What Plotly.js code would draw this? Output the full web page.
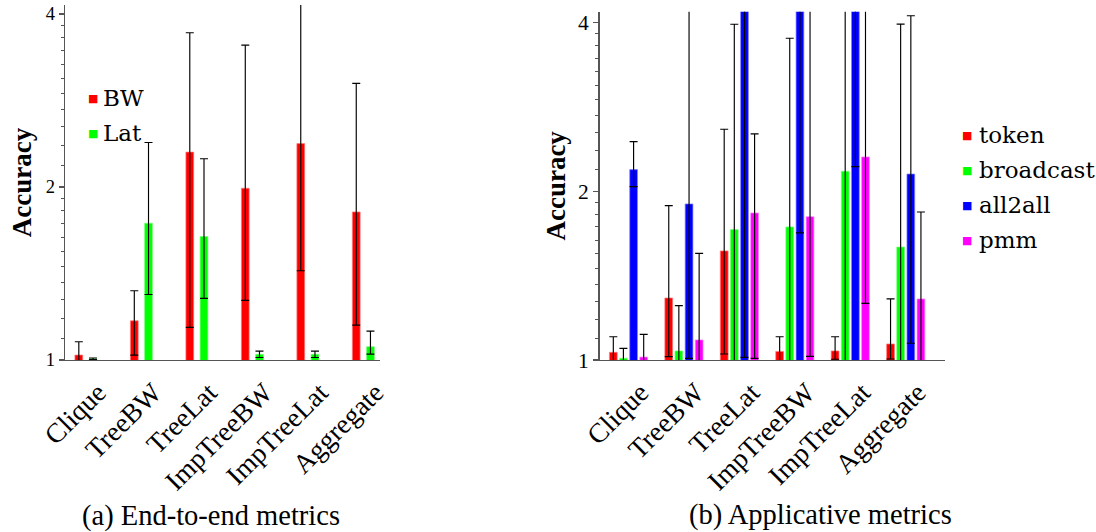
<!DOCTYPE html>
<html>
<head>
<meta charset="utf-8">
<script src="https://cdn.plot.ly/plotly-3.0.1.min.js"></script>
<style>html,body{margin:0;padding:0;background:#fff;}#chart{width:1096px;height:532px;}</style>
</head>
<body>
<div id="chart"></div>
<script>
// ---------- data ----------
const categories = ['Clique', 'TreeBW', 'TreeLat', 'ImpTreeBW', 'ImpTreeLat', 'Aggregate'];

// (a) End-to-end metrics
const bwValues   = [1.02, 1.17, 2.30, 1.99, 2.38, 1.81];
const bwPlus     = [0.056, 0.15, 1.41, 1.54, 2.10, 1.22];
const bwMinus    = [0.056, 0.15, 1.16, 0.72, 0.95, 0.66];
const latValues  = [1.005, 1.73, 1.64, 1.023, 1.023, 1.055];
const latPlus    = [0.003, 0.66, 0.60, 0.013, 0.013, 0.068];
const latMinus   = [0.003, 0.43, 0.36, 0.013, 0.013, 0.031];

// (b) Applicative metrics
const tokenValues     = [1.032, 1.29, 1.565, 1.036, 1.038, 1.068];
const tokenPlus       = [0.068, 0.595, 1.014, 0.064, 0.062, 0.217];
const tokenMinus      = [0.068, 0.276, 0.540, 0.064, 0.035, 0.064];
const broadcastValues = [1.007, 1.038, 1.708, 1.727, 2.17, 1.59];
const broadcastPlus   = [0.042, 0.212, 2.261, 2.020, 2.40, 2.380];
const broadcastMinus  = [0.042, 0.212, 2.261, 2.020, 2.40, 2.380];
const all2allValues   = [2.185, 1.898, 5.0, 5.2, 5.6, 2.146];
const all2allPlus     = [0.266, 2.50, 3.99, 3.50, 3.40, 1.964];
const all2allMinus    = [0.147, 0.891, 3.989, 3.515, 3.388, 1.075];
const pmmValues       = [1.012, 1.086, 1.829, 1.801, 2.302, 1.285];
const pmmPlus         = [0.099, 0.463, 0.701, 2.60, 2.30, 0.551];
const pmmMinus        = [0.099, 0.463, 0.822, 0.786, 1.040, 0.551];

const leftNames  = ['BW', 'Lat'];
const rightNames = ['token', 'broadcast', 'all2all', 'pmm'];
const yTickVals  = [1, 2, 4];
const yTickText  = ['1', '2', '4'];
const captions   = ['(a) End-to-end metrics', '(b) Applicative metrics'];

// ---------- styling ----------
const FONT = 'Liberation Serif';
const colors = {BW: '#ff0000', Lat: '#00ff00', token: '#ff0000', broadcast: '#00ff00', all2all: '#0000ff', pmm: '#ff00ff'};
const edges  = {BW: 'rgba(255,120,120,0.9)', Lat: 'rgba(120,255,120,0.9)', token: 'rgba(255,120,120,0.9)',
                broadcast: 'rgba(120,255,120,0.9)', all2all: 'rgba(130,130,255,0.9)', pmm: 'rgba(255,130,255,0.9)'};

// minor ticks: 10 equal linear steps inside each doubling
const minorVals = [];
[1, 2].forEach(function (base) {
  for (let k = 1; k <= 10; k++) minorVals.push(base + base * k / 11);
});

function barTrace(name, vals, plus, minus, xa, ya, offset, width) {
  return {
    type: 'bar', name: name, x: categories, y: vals,
    xaxis: xa, yaxis: ya, offset: offset, width: width,
    marker: {color: colors[name], line: {width: 0.8, color: edges[name]}},
    error_y: {type: 'data', symmetric: false, array: plus, arrayminus: minus,
              color: '#000', thickness: 1.15, width: 4},
    showlegend: false, hoverinfo: 'x+y+name'
  };
}

const traces = [
  barTrace('BW',  bwValues,  bwPlus,  bwMinus,  'x',  'y',  -0.198, 0.14),
  barTrace('Lat', latValues, latPlus, latMinus, 'x',  'y',   0.058, 0.14),
  barTrace('token',     tokenValues,     tokenPlus,     tokenMinus,     'x2', 'y2', -0.344, 0.14),
  barTrace('broadcast', broadcastValues, broadcastPlus, broadcastMinus, 'x2', 'y2', -0.162, 0.14),
  barTrace('all2all',   all2allValues,   all2allPlus,   all2allMinus,   'x2', 'y2',  0.022, 0.14),
  barTrace('pmm',       pmmValues,       pmmPlus,       pmmMinus,       'x2', 'y2',  0.204, 0.14)
];

const W = 1096, H = 532;
const px = v => v / W, py = v => 1 - v / H;
const axisColor = '#555';

function xAxis(domain, range, anchor) {
  return {
    domain: domain, range: range, anchor: anchor, type: 'category',
    showline: true, linecolor: axisColor, linewidth: 1.4,
    ticks: '', showgrid: false, zeroline: false, fixedrange: true,
    tickangle: -45, tickfont: {family: FONT, size: 27.5, color: '#000'},
    ticklabelstandoff: 4, ticklabelshift: 12
  };
}
function yAxis(domain, range, anchor, tsize, standoff) {
  return {
    domain: domain, range: range, anchor: anchor, type: 'log',
    tickmode: 'array', tickvals: yTickVals, ticktext: yTickText,
    ticks: 'outside', ticklen: 5, tickwidth: 1.2, tickcolor: axisColor,
    minor: {tickmode: 'array', tickvals: minorVals, ticks: 'outside', ticklen: 3, tickwidth: 1, tickcolor: axisColor, showgrid: false},
    showline: true, linecolor: axisColor, linewidth: 1.4,
    showgrid: false, zeroline: false, fixedrange: true,
    tickfont: {family: FONT, size: tsize, color: '#000'},
    title: {text: '<b>Accuracy</b>', font: {family: FONT, size: 27, color: '#000'}, standoff: standoff}
  };
}

// legend entries (key square + label) as annotations
const annotations = [];
function legendEntries(names, markX, textX, topY, step) {
  names.forEach(function (n, i) {
    const yy = py(topY + i * step);
    annotations.push({text: '■', xref: 'paper', yref: 'paper', x: px(markX), y: yy,
      xanchor: 'center', yanchor: 'middle', showarrow: false,
      font: {family: 'DejaVu Sans', size: 11, color: colors[n]}});
    annotations.push({text: n, xref: 'paper', yref: 'paper', x: px(textX), y: yy,
      xanchor: 'left', yanchor: 'middle', showarrow: false,
      font: {family: 'DejaVu Serif', size: 23, color: '#000'}});
  });
}
legendEntries(leftNames, 92.5, 101, 98, 35);
legendEntries(rightNames, 967, 977, 135, 35);

annotations.push({text: captions[0], xref: 'paper', yref: 'paper', x: px(211), y: py(516),
  xanchor: 'center', yanchor: 'middle', showarrow: false, font: {family: FONT, size: 28.5, color: '#000'}});
annotations.push({text: captions[1], xref: 'paper', yref: 'paper', x: px(820), y: py(515),
  xanchor: 'center', yanchor: 'middle', showarrow: false, font: {family: FONT, size: 28.5, color: '#000'}});

const layout = {
  width: W, height: H,
  margin: {l: 0, r: 0, t: 0, b: 0},
  font: {family: FONT, color: '#000'},
  paper_bgcolor: '#fff', plot_bgcolor: 'rgba(0,0,0,0)',
  barmode: 'overlay',
  showlegend: false,
  xaxis:  xAxis([px(65), px(380)], [-0.377, 5.30], 'y'),
  yaxis:  yAxis([py(360), py(5)], [0, Math.log10(Math.pow(2, 2.052))], 'x', 18.5, 6),
  xaxis2: xAxis([px(599.5), px(945)], [-0.523, 5.708], 'y2'),
  yaxis2: yAxis([py(360), py(11.7)], [0, Math.log10(Math.pow(2, 2.063))], 'x2', 21.5, 4),
  annotations: annotations
};

Plotly.newPlot('chart', traces, layout, {displayModeBar: false, staticPlot: true});
</script>
</body>
</html>
